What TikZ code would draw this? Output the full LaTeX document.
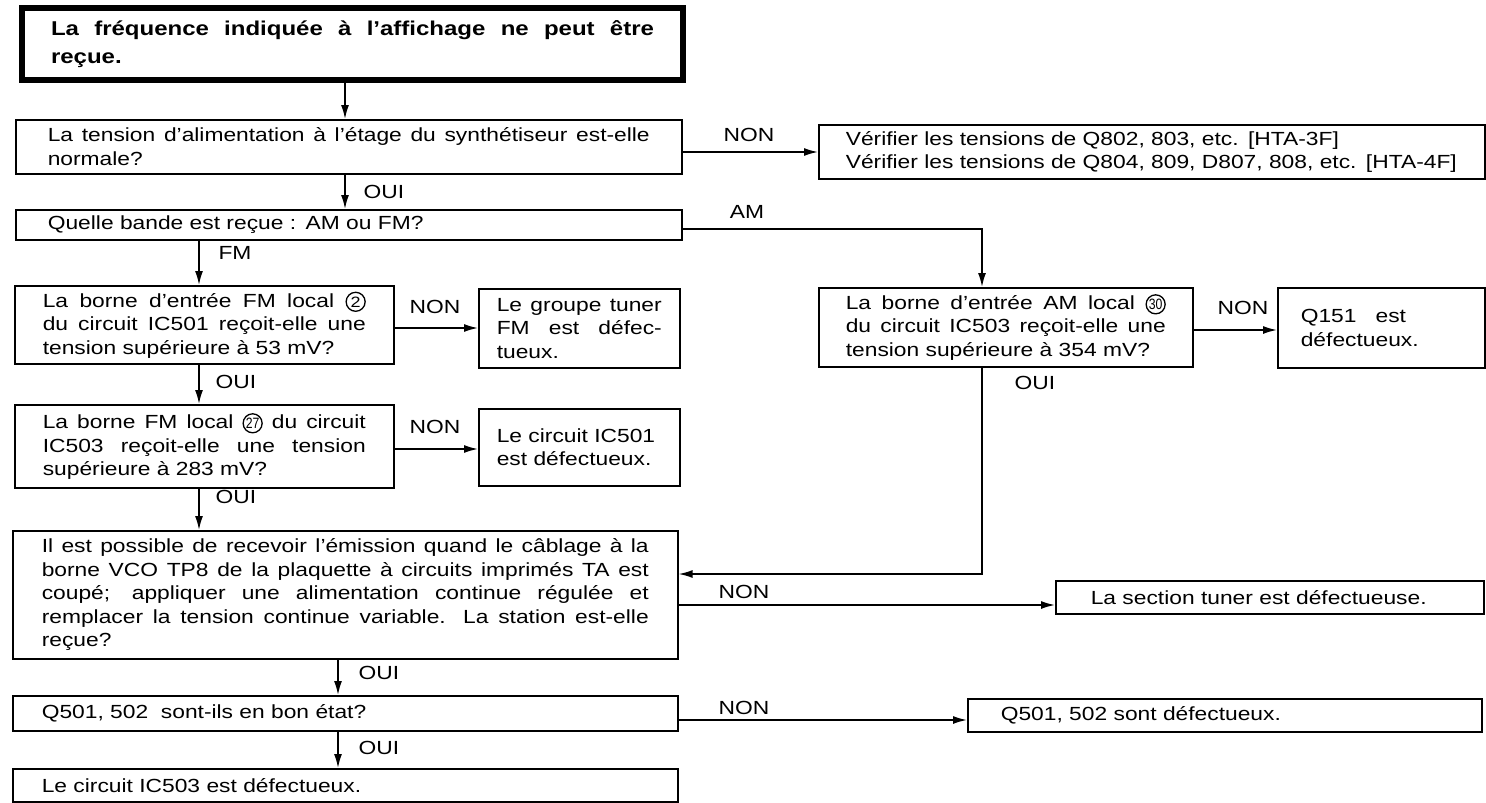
\documentclass[tikz,border=0pt]{standalone}
\usepackage{fontspec}
\usepackage{graphicx}
\setmainfont{Liberation Sans}[FakeStretch=1.2]
\usetikzlibrary{arrows.meta}
\newcommand\jl[1]{\makebox[\linewidth][s]{\spaceskip=0.28em plus 1fil\relax #1}}
\newcommand\circnum[2]{\tikz[baseline=(#1.base)]\node[circ](#1){#2};}
\begin{document}
\begin{tikzpicture}[x=1pt,y=-1pt,
  every node/.style={font=\fontsize{19}{23.5}\selectfont},
  box/.style={draw, line width=1.6pt, anchor=north west, inner ysep=1pt, align=left},
  lab/.style={inner sep=0pt},
  arr/.style={line width=1.6pt, -{Latex[length=14pt,width=8pt]}},
  circ/.style={draw, circle, line width=1.3pt, inner sep=0pt, anchor=center,
    text width={}, minimum height=0pt, minimum width=0pt, minimum size=19pt,
    font=\fontsize{15}{15}\selectfont}]
\fill[white] (0,0) rectangle (1486,803);
\useasboundingbox (0,0) rectangle (1486,803);

% boxes
\node[box, line width=6pt, text width=603pt, inner xsep=29pt, minimum height=72pt,
  font={\fontsize{20}{28}\selectfont\bfseries}] (title) at (19,5)
  {\jl{La fréquence indiquée à l’affichage ne peut être}\\\mbox{reçue.}};
\node[box, text width=602pt, inner xsep=32pt, minimum height=54pt] (alim) at (15,119)
  {\jl{La tension d’alimentation à l’étage du synthétiseur est-elle}\\\mbox{normale?}};
\node[box, text width=602pt, inner xsep=32pt, minimum height=30pt] (band) at (15,209)
  {\mbox{Quelle bande est reçue : AM ou FM?}};
\node[box, text width=612pt, inner xsep=27pt, minimum height=54pt] (ver) at (818,124)
  {\mbox{Vérifier les tensions de Q802, 803, etc. [HTA-3F]}\\\mbox{Vérifier les tensions de Q804, 809, D807, 808, etc. [HTA-4F]}};
\node[box, text width=323pt, inner xsep=28pt, minimum height=78pt] (fm1) at (14,285)
  {\jl{La borne d’entrée FM local \circnum{c2}{2}}\\\jl{du circuit IC501 reçoit-elle une}\\\mbox{tension supérieure à 53 mV?}};
\node[box, text width=165pt, inner xsep=18pt, minimum height=79pt] (t1) at (478,288)
  {\jl{Le groupe tuner}\\\jl{FM est défec-}\\\mbox{tueux.}};
\node[box, text width=323pt, inner xsep=28pt, minimum height=83pt] (fm2) at (14,404)
  {\jl{La borne FM local \circnum{c27}{\scalebox{0.68}[1]{27}} du circuit}\\\jl{IC503 reçoit-elle une tension}\\\mbox{supérieure à 283 mV?}};
\node[box, text width=165pt, inner xsep=18pt, minimum height=77pt] (t2) at (478,408)
  {\mbox{Le circuit IC501}\\\mbox{est défectueux.}};
\node[box, text width=320pt, inner xsep=27pt, minimum height=79pt] (am) at (818,287)
  {\jl{La borne d’entrée AM local \circnum{c30}{\scalebox{0.68}[1]{30}}}\\\jl{du circuit IC503 reçoit-elle une}\\\mbox{tension supérieure à 354 mV?}};
\node[box, text width=161pt, inner xsep=23pt, minimum height=80pt] (q151) at (1277,287)
  {\mbox{Q151\ \ \ est}\\\mbox{défectueux.}};
\node[box, text width=607pt, inner xsep=29pt, minimum height=128pt] (big) at (12,530)
  {\jl{Il est possible de recevoir l’émission quand le câblage à la}\\
   \jl{borne VCO TP8 de la plaquette à circuits imprimés TA est}\\
   \jl{coupé; appliquer une alimentation continue régulée et}\\
   \jl{remplacer la tension continue variable.~\hspace{0.4em}La station est-elle}\\
   \mbox{reçue?}};
\node[box, text width=358pt, inner xsep=35pt, minimum height=33pt] (sect) at (1055,580)
  {\mbox{La section tuner est défectueuse.}};
\node[box, text width=607pt, inner xsep=29pt, minimum height=35pt] (q501) at (12,695)
  {\mbox{Q501, 502\ \ sont-ils en bon état?}};
\node[box, text width=448pt, inner xsep=33pt, minimum height=33pt] (q501def) at (967,698)
  {\mbox{Q501, 502 sont défectueux.}};
\node[box, text width=607pt, inner xsep=29pt, minimum height=33pt] (last) at (12,768)
  {\mbox{Le circuit IC503 est défectueux.}};

% helper coordinates
\coordinate (xa) at (345,0);
\coordinate (xf) at (199,0);
\coordinate (xq) at (338,0);
\coordinate (xam) at (982,0);
\coordinate (yver) at (0,152);
\coordinate (yam) at (0,229);
\coordinate (yt1) at (0,328);
\coordinate (yt2) at (0,449);
\coordinate (yq151) at (0,330);
\coordinate (yret) at (0,574);
\coordinate (ysect) at (0,605);
\coordinate (yq501) at (0,720);

% connectors
\draw[arr] (title.south -| xa) -- (alim.north -| xa);
\draw[arr] (alim.south -| xa) -- (band.north -| xa);
\draw[arr] (alim.east |- yver) -- (ver.west |- yver);
\draw[arr] (band.east |- yam) -| (am.north -| xam);
\draw[arr] (band.south -| xf) -- (fm1.north -| xf);
\draw[arr] (fm1.east |- yt1) -- (t1.west |- yt1);
\draw[arr] (fm1.south -| xf) -- (fm2.north -| xf);
\draw[arr] (fm2.east |- yt2) -- (t2.west |- yt2);
\draw[arr] (fm2.south -| xf) -- (big.north -| xf);
\draw[arr] (am.east |- yq151) -- (q151.west |- yq151);
\draw[arr] (am.south -| xam) |- (big.east |- yret);
\draw[arr] (big.east |- ysect) -- (sect.west |- ysect);
\draw[arr] (big.south -| xq) -- (q501.north -| xq);
\draw[arr] (q501.east |- yq501) -- (q501def.west |- yq501);
\draw[arr] (q501.south -| xq) -- (last.north -| xq);

% labels
\node[lab] (nver) at (749,135) {NON};
\node[lab] (oalim) at (384,192) {OUI};
\node[lab] (lam) at (747,212) {AM};
\node[lab] (lfm) at (235,253) {FM};
\node[lab] (nfm1) at (435,307) {NON};
\node[lab] (ofm1) at (236,382) {OUI};
\node[lab] (nfm2) at (435,427) {NON};
\node[lab] (ofm2) at (236,497) {OUI};
\node[lab] (oam) at (1035,383) {OUI};
\node[lab] (nam) at (1243,308) {NON};
\node[lab] (nbig) at (744,592) {NON};
\node[lab] (obig) at (379,673) {OUI};
\node[lab] (nq) at (744,708) {NON};
\node[lab] (oq) at (379,748) {OUI};
\end{tikzpicture}
\end{document}
